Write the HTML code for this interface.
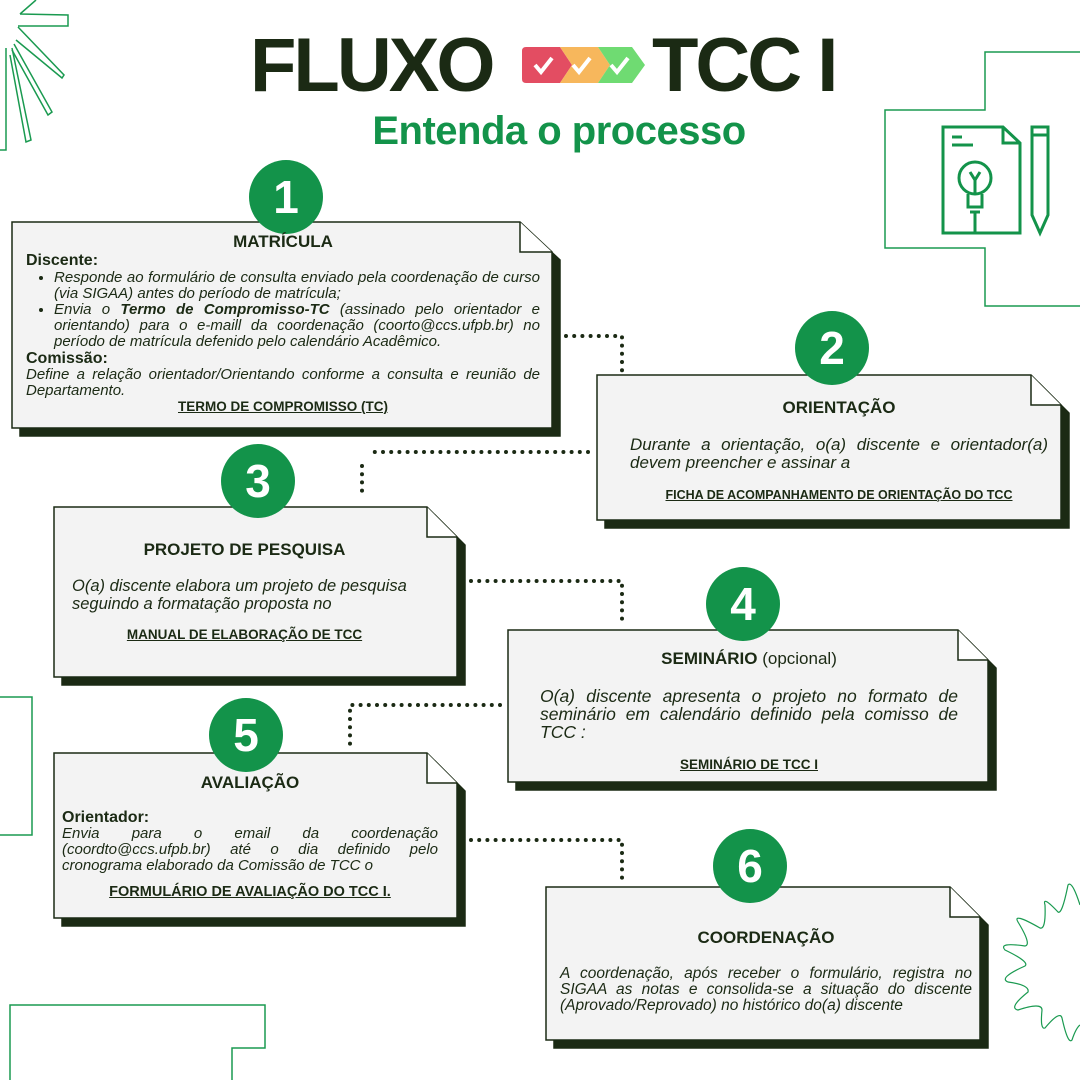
<!DOCTYPE html>
<html><head><meta charset="utf-8"><style>
body{margin:0;width:1080px;height:1080px;background:#fff;position:relative;overflow:hidden;font-family:"Liberation Sans Narrow","Liberation Sans",sans-serif;color:#1b2a14}
.a{position:absolute}
svg{position:absolute;left:0;top:0}
.t{font-weight:bold;font-size:17px;text-align:center}
.b{font-style:italic;font-size:15px;line-height:16px;text-align:justify}
.u{font-weight:bold;font-size:13.5px;text-decoration:underline;text-align:center}
.n{position:absolute;width:74px;height:74px;border-radius:50%;background:#13934a;color:#fff;font-family:"Liberation Sans",sans-serif;font-weight:bold;font-size:46px;line-height:74px;text-align:center}
ul{margin:0;padding-left:28px}
</style></head><body>
<svg width="1080" height="1080" viewBox="0 0 1080 1080">
<g fill="none" stroke="#1a9a50" stroke-width="1.5">
<path d="M36 0 L20 14 M20 14 L68 15 L68 26 L18 26"/>
<path d="M18 27 L64 75 L62 78 L16 40"/>
<path d="M14 44 L52 112 L48 115 L12 50"/>
<path d="M12 48 L31 140 L26 142 L10 55"/>
<path d="M6 48 L6 150 L0 150"/>
<path d="M1080 52 L985 52 L985 110 L885 110 L885 248 L985 248 L985 306 L1080 306"/>
<path d="M0 697 L32 697 L32 835 L0 835"/>
<path d="M10 1080 L10 1005 L265 1005 L265 1048 L232 1048 L232 1080"/>
<path stroke-width="1.2" d="M1080 905 Q1072 880 1068 885 Q1062 915 1058 912 Q1042 895 1045 905 Q1046 930 1040 928 Q1012 912 1018 922 Q1032 945 1025 946 Q998 942 1005 950 Q1030 962 1025 966 Q998 978 1008 982 Q1030 985 1028 992 Q1008 1008 1018 1010 Q1042 1002 1042 1010 Q1040 1030 1045 1028 Q1060 1010 1062 1018 Q1068 1045 1072 1040 Q1076 1028 1080 1025"/>
</g>
<g fill="none" stroke="#13934a" stroke-width="3">
<path d="M943 127 L1003 127 L1020 143 L1020 233 L943 233 Z M1003 127 L1003 143 L1020 143"/>
<path d="M952 137 L962 137 M952 145 L973 145"/>
<circle cx="975" cy="178" r="16"/>
<path d="M968 194 L968 207 L982 207 L982 194 M970 212 L980 212 M975 212 L975 233 M975 194 L975 180 M970 172 L975 180 L980 172"/>
<path d="M1032 127 L1048 127 L1048 215 L1040 233 L1032 215 Z M1032 135 L1048 135"/>
</g>
<g>
<path d="M526 47 L560 47 L572 65 L560 83 L526 83 Q522 83 522 79 L522 51 Q522 47 526 47Z" fill="#e34d62"/>
<path d="M560 47 L598 47 L610 65 L598 83 L560 83 L572 65Z" fill="#f7b75c"/>
<path d="M598 47 L632 47 L645 65 L632 83 L598 83 L610 65Z" fill="#6fdb72"/>
<path d="M535 65 L541 72 L552 58 M573 65 L579 72 L590 58 M611 65 L617 72 L628 58" fill="none" stroke="#fff" stroke-width="4"/>
</g>
<g fill="none" stroke="#1b2a14" stroke-width="4" stroke-linecap="round" stroke-dasharray="0 8.2">
<path d="M566 336 L622 336 L622 372"/>
<path d="M588 452 L370 452"/>
<path d="M362 466 L362 498"/>
<path d="M471 581 L622 581 L622 622"/>
<path d="M500 705 L350 705 L350 745"/>
<path d="M471 840 L622 840 L622 882"/>
</g>
<g stroke="#1b2a14" stroke-width="1.5">
<g><path d="M20 230 L528 230 L560 260 L560 436 L20 436Z" fill="#1b2a14"/><path d="M12 222 L520 222 L552 252 L552 428 L12 428Z" fill="#f3f3f3"/><path d="M520 222 L520 252 L552 252" fill="#fff"/></g>
<g><path d="M605 383 L1039 383 L1069 413 L1069 528 L605 528Z" fill="#1b2a14"/><path d="M597 375 L1031 375 L1061 405 L1061 520 L597 520Z" fill="#f3f3f3"/><path d="M1031 375 L1031 405 L1061 405" fill="#fff"/></g>
<g><path d="M62 515 L435 515 L465 545 L465 685 L62 685Z" fill="#1b2a14"/><path d="M54 507 L427 507 L457 537 L457 677 L54 677Z" fill="#f3f3f3"/><path d="M427 507 L427 537 L457 537" fill="#fff"/></g>
<g><path d="M516 638 L966 638 L996 668 L996 790 L516 790Z" fill="#1b2a14"/><path d="M508 630 L958 630 L988 660 L988 782 L508 782Z" fill="#f3f3f3"/><path d="M958 630 L958 660 L988 660" fill="#fff"/></g>
<g><path d="M62 761 L435 761 L465 791 L465 926 L62 926Z" fill="#1b2a14"/><path d="M54 753 L427 753 L457 783 L457 918 L54 918Z" fill="#f3f3f3"/><path d="M427 753 L427 783 L457 783" fill="#fff"/></g>
<g><path d="M554 895 L958 895 L988 925 L988 1048 L554 1048Z" fill="#1b2a14"/><path d="M546 887 L950 887 L980 917 L980 1040 L546 1040Z" fill="#f3f3f3"/><path d="M950 887 L950 917 L980 917" fill="#fff"/></g>
</g>
</svg>

<div class="a" style="left:250px;top:26px;font-family:'Liberation Sans',sans-serif;font-weight:bold;font-size:76px;line-height:80px;color:#1b2a14;letter-spacing:-3px">FLUXO</div>
<div class="a" style="left:652px;top:26px;font-family:'Liberation Sans',sans-serif;font-weight:bold;font-size:76px;line-height:80px;color:#1b2a14;letter-spacing:-3px">TCC I</div>
<div class="a" style="left:368px;top:108px;width:382px;text-align:center;font-family:'Liberation Sans',sans-serif;font-weight:bold;font-size:40px;line-height:46px;color:#13934a;white-space:nowrap;letter-spacing:-0.5px">Entenda o processo</div>

<div class="n" style="left:249px;top:160px">1</div>
<div class="n" style="left:795px;top:311px">2</div>
<div class="n" style="left:221px;top:444px">3</div>
<div class="n" style="left:706px;top:567px">4</div>
<div class="n" style="left:209px;top:698px">5</div>
<div class="n" style="left:713px;top:829px">6</div>

<div class="a" style="left:26px;top:232px;width:514px">
<div class="t">MATRÍCULA</div>
<div style="font-weight:bold;font-size:16px;line-height:18px">Discente:</div>
<ul class="b"><li>Responde ao formulário de consulta enviado pela coordenação de curso (via SIGAA) antes do período de matrícula;</li>
<li>Envia o <b>Termo de Compromisso-TC</b> (assinado pelo orientador e orientando) para o e-maill da coordenação (coorto@ccs.ufpb.br) no período de matrícula defenido pelo calendário Acadêmico.</li></ul>
<div style="font-weight:bold;font-size:16px;line-height:17px">Comissão:</div>
<div class="b">Define a relação orientador/Orientando conforme a consulta e reunião de Departamento.</div>
<div class="u">TERMO DE COMPROMISSO (TC)</div>
</div>

<div class="a" style="left:630px;top:398px;width:418px">
<div class="t" style="margin-bottom:18px">ORIENTAÇÃO</div>
<div class="b" style="font-size:17px;line-height:18px">Durante a orientação, o(a) discente e orientador(a) devem preencher e assinar a</div>
<div class="u" style="font-size:12.5px;margin-top:16px">FICHA DE ACOMPANHAMENTO DE ORIENTAÇÃO DO TCC</div>
</div>

<div class="a" style="left:72px;top:540px;width:355px">
<div class="t" style="margin-bottom:17px;margin-left:-10px">PROJETO DE PESQUISA</div>
<div class="b" style="font-size:16.5px;line-height:18px;text-align:left">O(a) discente elabora um projeto de pesquisa seguindo a formatação proposta no</div>
<div class="u" style="margin-top:14px;margin-left:-10px">MANUAL DE ELABORAÇÃO DE TCC</div>
</div>

<div class="a" style="left:540px;top:649px;width:418px">
<div class="t" style="margin-bottom:18px">SEMINÁRIO <span style="font-weight:normal">(opcional)</span></div>
<div class="b" style="font-size:17.5px;line-height:18px">O(a) discente apresenta o projeto no formato de seminário em calendário definido pela comisso de TCC :</div>
<div class="u" style="margin-top:16px">SEMINÁRIO DE TCC I</div>
</div>

<div class="a" style="left:62px;top:773px;width:376px">
<div class="t" style="margin-bottom:16px">AVALIAÇÃO</div>
<div style="font-weight:bold;font-size:16px;line-height:17px">Orientador:</div>
<div class="b">Envia para o email da coordenação (coordto@ccs.ufpb.br) até o dia definido pelo cronograma elaborado da Comissão de TCC o</div>
<div class="u" style="margin-top:10px;font-size:14.5px">FORMULÁRIO DE AVALIAÇÃO DO TCC I.</div>
</div>

<div class="a" style="left:560px;top:928px;width:412px">
<div class="t" style="margin-bottom:18px">COORDENAÇÃO</div>
<div class="b" style="font-size:15.5px">A coordenação, após receber o formulário, registra no SIGAA as notas e consolida-se a situação do discente (Aprovado/Reprovado) no histórico do(a) discente</div>
</div>
</body></html>
